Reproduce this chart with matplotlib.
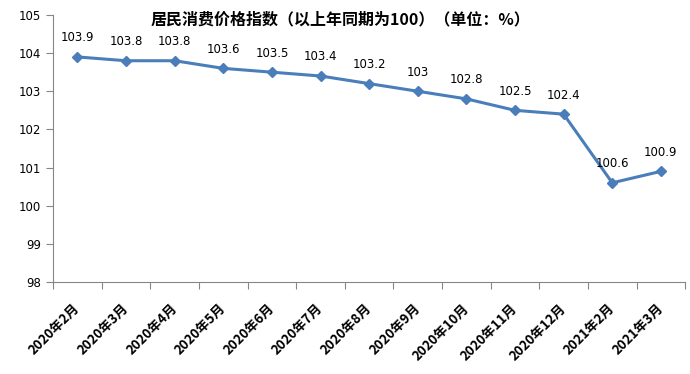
import matplotlib.pyplot as plt
import numpy as np

plt.rcParams["font.family"] = ["Noto Sans CJK SC", "DejaVu Sans"]

# Data.
months = [
    "2020年2月", "2020年3月", "2020年4月", "2020年5月", "2020年6月",
    "2020年7月", "2020年8月", "2020年9月", "2020年10月", "2020年11月",
    "2020年12月", "2021年2月", "2021年3月",
]
cpi = [103.9, 103.8, 103.8, 103.6, 103.5, 103.4, 103.2, 103.0, 102.8,
       102.5, 102.4, 100.6, 100.9]
cpi_labels = ["103.9", "103.8", "103.8", "103.6", "103.5", "103.4", "103.2",
              "103", "102.8", "102.5", "102.4", "100.6", "100.9"]
yticks = [98, 99, 100, 101, 102, 103, 104, 105]

line_color = "#4A7EBB"
axis_color = "#868686"

fig = plt.figure(figsize=(6.9, 3.74), dpi=100)
ax = fig.add_axes([0.077, 0.246, 0.916, 0.714])

x = np.arange(len(months))
ax.plot(x, cpi, color=line_color, lw=2.2, marker="D", ms=5.5,
        markerfacecolor=line_color, markeredgecolor=line_color)

for xi, yi, lab in zip(x, cpi, cpi_labels):
    ax.annotate(lab, (xi, yi), xytext=(0, 9), textcoords="offset points",
                ha="center", va="bottom", fontsize=8.5,
                family=["DejaVu Sans"])

ax.set_xlim(-0.5, len(months) - 0.5)
ax.set_ylim(98, 105)
ax.set_yticks(yticks)
ax.set_yticklabels([str(v) for v in yticks], fontsize=8.5,
                   family=["DejaVu Sans"])

# Category boundaries as tick marks, labels centred on the categories.
ax.set_xticks(np.arange(-0.5, len(months), 1.0))
ax.set_xticklabels([])
ax.set_xticks(x - 0.1, minor=True)
ax.set_xticklabels(months, minor=True, rotation=45, ha="right",
                   rotation_mode="anchor", fontsize=9.5, fontweight="bold")
ax.tick_params(axis="x", which="major", length=5, color=axis_color)
ax.tick_params(axis="x", which="minor", length=0, pad=14)
ax.tick_params(axis="y", length=5, color=axis_color)

ax.spines["top"].set_visible(False)
ax.spines["right"].set_visible(False)
ax.spines["left"].set_color(axis_color)
ax.spines["bottom"].set_color(axis_color)

fig.text(0.493, 0.947, "居民消费价格指数（以上年同期为100）（单位：%）",
         ha="center", va="center", fontsize=11.5, fontweight="bold")

fig.savefig("out.png", dpi=100)
